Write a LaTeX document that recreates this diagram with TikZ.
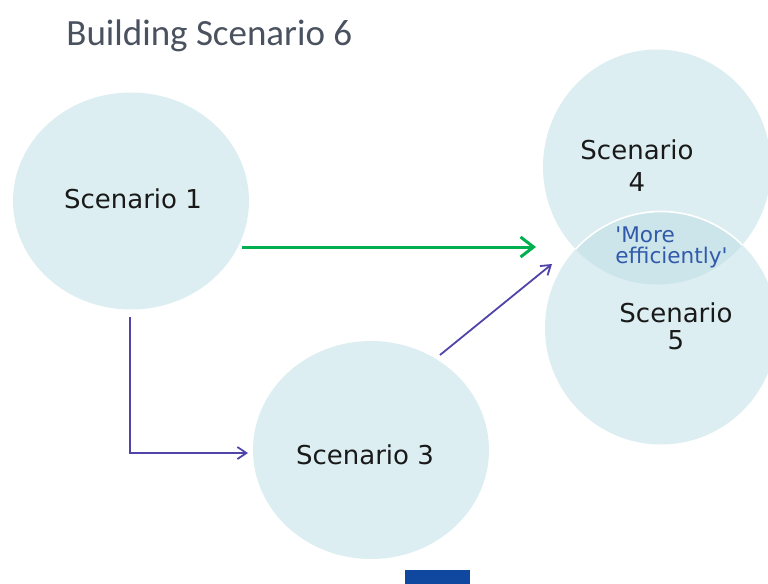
\documentclass[tikz,border=0pt]{standalone}
\usepackage{fontspec}
\setmainfont{DejaVu Sans}
\newfontfamily\titlefont{Carlito}
\usetikzlibrary{shapes.geometric,arrows.meta}
\definecolor{bubble}{RGB}{220,238,241}
\definecolor{bubbledark}{RGB}{203,229,234}
\definecolor{textdark}{RGB}{25,25,25}
\definecolor{effblue}{RGB}{50,90,170}
\definecolor{titlegray}{RGB}{75,82,95}
\definecolor{arrowgreen}{RGB}{0,176,80}
\definecolor{arrowpurple}{RGB}{80,68,168}
\definecolor{barblue}{RGB}{16,72,160}
\begin{document}
\begin{tikzpicture}[x=0.5pt,y=-0.5pt,
  bubblenode/.style={ellipse,fill=bubble,draw=none,inner sep=0pt},
  lbl/.style={font=\fontsize{13}{16}\selectfont,text=textdark,inner sep=0pt,align=center},
  greenarrow/.style={draw=arrowgreen,line width=1.5pt,-{Straight Barb[length=6.5pt,width=10pt,line width=1.5pt]}},
  purplearrow/.style={draw=arrowpurple,line width=0.9pt,-{Straight Barb[length=4.5pt,width=6pt]}}]
\useasboundingbox (0,0) rectangle (768,584);
% title
\node[anchor=base west,inner sep=0pt,text=titlegray,font=\titlefont\fontsize{18.5}{22}\selectfont] (title) at (66,45) {Building Scenario 6};
% bubbles
\node[bubblenode,minimum width=118pt,minimum height=108.5pt] (s1) at (131,201) {};
\node[bubblenode,minimum width=118pt,minimum height=109pt] (s3) at (371,450) {};
\node[bubblenode,minimum width=114pt,minimum height=117.5pt] (s4) at (657,167) {};
\node[bubblenode,minimum width=116pt,minimum height=116.5pt] (s5) at (661,328) {};
\begin{scope}
  \clip (657,167) ellipse [x radius=114, y radius=117.5];
  \fill[bubbledark] (661,328) ellipse [x radius=116, y radius=116.5];
  \draw[white,line width=0.8pt] (661,328) ellipse [x radius=116, y radius=116.5];
\end{scope}
% labels
\node[lbl] (t1) at (133,199) {Scenario 1};
\node[lbl] (t3) at (365,455) {Scenario 3};
\node[lbl] (t4) at (637,166) {Scenario\\4};
\node[lbl,font=\fontsize{13}{13.5}\selectfont] (t5) at (676,326.5) {Scenario\\5};
\node[inner sep=0pt,anchor=west,align=left,text=effblue,font=\fontsize{10.8}{10.5}\selectfont] (eff) at (615,247) {\textquotesingle More\\efficiently\textquotesingle};
% connector ends
\coordinate (g1) at (242,247);
\coordinate (g2) at (536,247);
\coordinate (p1) at (130,317);
\coordinate (p2) at (248,453);
\coordinate (d1) at (440,355);
\coordinate (d2) at (552,264);
% connectors
\draw[greenarrow] (g1) -- (g2);
\draw[purplearrow] (p1) |- (p2);
\draw[purplearrow] (d1) -- (d2);
% bar at the bottom
\node[fill=barblue,draw=none,inner sep=0pt,minimum width=32.5pt,minimum height=8pt,anchor=north west] (bar) at (405,570) {};
\end{tikzpicture}
\end{document}
